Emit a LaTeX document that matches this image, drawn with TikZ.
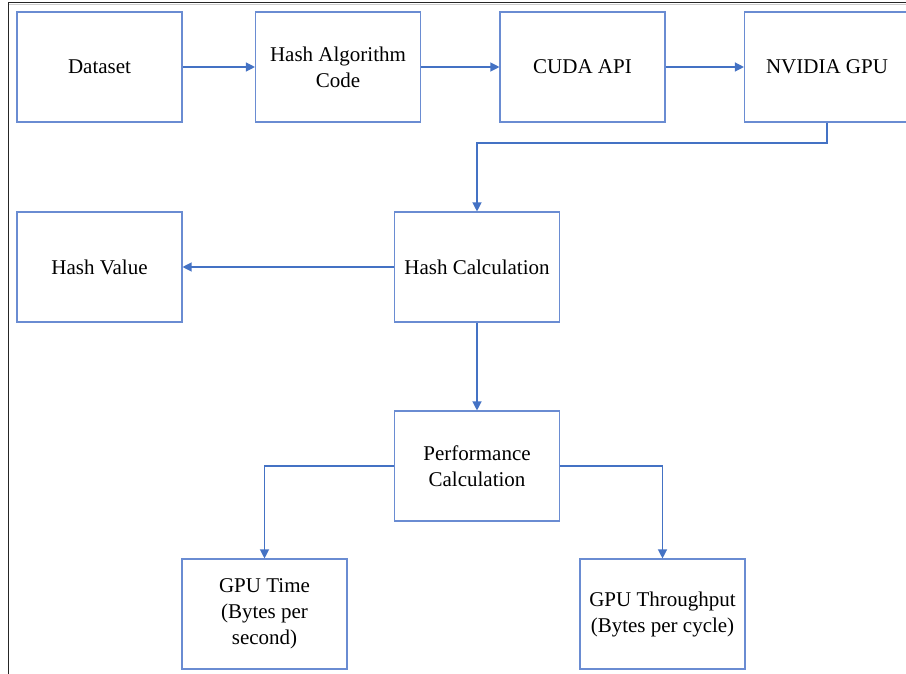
\documentclass[tikz,border=0pt]{standalone}
\usepackage{fontspec}
\setmainfont{Liberation Serif}
\usetikzlibrary{arrows.meta}
\definecolor{boxblue}{HTML}{6A8CD2}
\definecolor{arrowblue}{HTML}{4472C4}
\definecolor{framegray}{HTML}{262626}
\tikzset{
  box/.style={draw=boxblue, line width=1.1pt, fill=white, minimum width=165pt,
    minimum height=110pt, align=center, inner sep=2pt,
    font=\fontsize{21}{26}\selectfont},
  arr/.style={draw=arrowblue, line width=1.2pt,
    -{Triangle[length=9pt,width=9pt]}},
}
\begin{document}
\begin{tikzpicture}[x=1pt,y=-1pt]
  \useasboundingbox (0,0) rectangle (906,674);
  \clip (0,0) rectangle (906,674);
  % page frame
  \draw[framegray, line width=1pt] (8,674) -- (8,3) -- (906,3);
  \draw[gray!40, line width=0.6pt] (9,4.6) -- (906,4.6);

  % first row
  \node[box] (ds) at (99.5,67)  {Dataset};
  \node[box] (ha) at (338,67)   {Hash Algorithm\\Code};
  \node[box] (cu) at (582.5,67) {CUDA API};
  \node[box] (nv) at (827,67)   {NVIDIA GPU};

  % second row
  \node[box] (hv) at (99.5,267) {Hash Value};
  \node[box] (hc) at (477,267)  {Hash Calculation};

  % third row
  \node[box] (pc) at (477,466)  {Performance\\Calculation};

  % results
  \node[box] (gt) at (264.5,614) {GPU Time\\(Bytes per\\second)};
  \node[box] (tp) at (662.5,614) {GPU Throughput\\(Bytes per cycle)};

  \coordinate (bend) at (827,143);

  \draw[arr] (ds.east) -- (ha.west);
  \draw[arr] (ha.east) -- (cu.west);
  \draw[arr] (cu.east) -- (nv.west);
  \draw[arr] (nv.south) -- (bend) -| (hc.north);
  \draw[arr] (hc.west) -- (hv.east);
  \draw[arr] (hc.south) -- (pc.north);
  \draw[arr] (pc.west) -| (gt.north);
  \draw[arr] (pc.east) -| (tp.north);
\end{tikzpicture}
\end{document}
